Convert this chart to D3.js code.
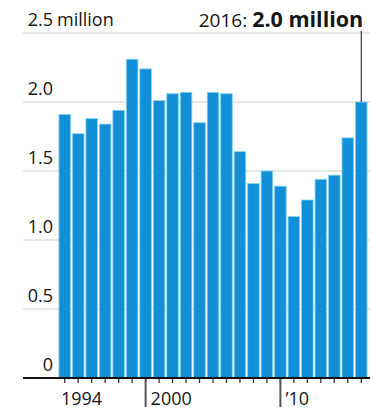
<!DOCTYPE html>
<html>
<head>
<meta charset="utf-8">
<script src="https://cdn.jsdelivr.net/npm/d3@7"></script>
<style>
  html, body { margin: 0; padding: 0; background: #fff; }
  svg { display: block; }
  text { font-family: "Open Sans", "Liberation Sans", sans-serif; fill: #161616; }
</style>
</head>
<body>
<svg id="chart" width="381" height="411"></svg>
<script>
// Annual totals, millions
const years = [1994, 1995, 1996, 1997, 1998, 1999, 2000, 2001, 2002, 2003, 2004, 2005,
               2006, 2007, 2008, 2009, 2010, 2011, 2012, 2013, 2014, 2015, 2016];
const values = [1.91, 1.77, 1.88, 1.84, 1.94, 2.31, 2.24, 2.01, 2.06, 2.07, 1.85, 2.07,
                2.06, 1.64, 1.41, 1.50, 1.39, 1.17, 1.29, 1.44, 1.47, 1.74, 2.0];
const yTicks = [0, 0.5, 1.0, 1.5, 2.0, 2.5];
const yTickLabels = ["0", "0.5", "1.0", "1.5", "2.0", "2.5"];
const xLabelYears = [1994, 2000, 2010];
const xLabelTexts = ["1994", "2000", "\u201910"];
const majorYears = [2000, 2010];
const calloutYear = 2016;
const calloutLead = "2016: ";
const calloutValue = "2.0 million";

const svg = d3.select("#chart");

const x = d3.scaleBand().domain(years).range([58, 368]).paddingInner(0.14).paddingOuter(0.07);
const y = d3.scaleLinear().domain([0, 2.5]).range([378, 33]);

const gridLeft = 23, gridRight = 370;

// horizontal gridlines
svg.append("g").selectAll("line")
  .data(yTicks.filter(d => d > 0))
  .join("line")
  .attr("x1", gridLeft).attr("x2", gridRight)
  .attr("y1", d => y(d)).attr("y2", d => y(d))
  .attr("stroke", "#cfcfcf").attr("stroke-width", 1.2);

// y tick labels, right-aligned numbers sitting above each line
const yl = svg.append("g");
yTicks.forEach((t, i) => {
  yl.append("text")
    .attr("x", 53).attr("y", y(t) - 7)
    .attr("text-anchor", "end")
    .attr("font-size", 18)
    .text(yTickLabels[i]);
});
yl.append("text")
  .attr("x", 57).attr("y", y(2.5) - 7)
  .attr("font-size", 18)
  .text("million");

// bars
svg.append("g").selectAll("rect")
  .data(years.map((yr, i) => ({ yr, v: values[i] })))
  .join("rect")
  .attr("x", d => x(d.yr))
  .attr("width", x.bandwidth())
  .attr("y", d => y(d.v))
  .attr("height", d => y(0) - y(d.v))
  .attr("fill", "#138fd7")
  .attr("stroke", "#86d6f2")
  .attr("stroke-width", 0.8);

// x axis baseline and ticks
const cx = d => x(d) + x.bandwidth() / 2;
const ax = svg.append("g");
ax.selectAll("line.minor")
  .data(years)
  .join("line")
  .attr("class", "minor")
  .attr("x1", cx).attr("x2", cx)
  .attr("y1", y(0)).attr("y2", y(0) + 5)
  .attr("stroke", "#333").attr("stroke-width", 1.3);
ax.selectAll("line.major")
  .data(majorYears)
  .join("line")
  .attr("class", "major")
  .attr("x1", cx).attr("x2", cx)
  .attr("y1", y(0)).attr("y2", y(0) + 29)
  .attr("stroke", "#555").attr("stroke-width", 2);
ax.append("line")
  .attr("x1", gridLeft).attr("x2", gridRight)
  .attr("y1", y(0)).attr("y2", y(0))
  .attr("stroke", "#111").attr("stroke-width", 2);

ax.selectAll("text")
  .data(xLabelYears.map((yr, i) => ({ yr, t: xLabelTexts[i] })))
  .join("text")
  .attr("x", d => majorYears.includes(d.yr) ? cx(d.yr) + 5 : x(d.yr) + 2)
  .attr("y", 405)
  .attr("font-size", 18)
  .text(d => d.t);

// callout for the latest year
const lx = cx(calloutYear);
svg.append("line")
  .attr("x1", lx).attr("x2", lx)
  .attr("y1", 31).attr("y2", y(values[values.length - 1]))
  .attr("stroke", "#111").attr("stroke-width", 1);
const ct = svg.append("text")
  .attr("x", lx + 2).attr("y", 27)
  .attr("text-anchor", "end")
  .attr("font-size", 19);
ct.append("tspan").text(calloutLead);
ct.append("tspan").attr("font-weight", "bold").attr("font-size", 21.5).text(calloutValue);
</script>
</body>
</html>
